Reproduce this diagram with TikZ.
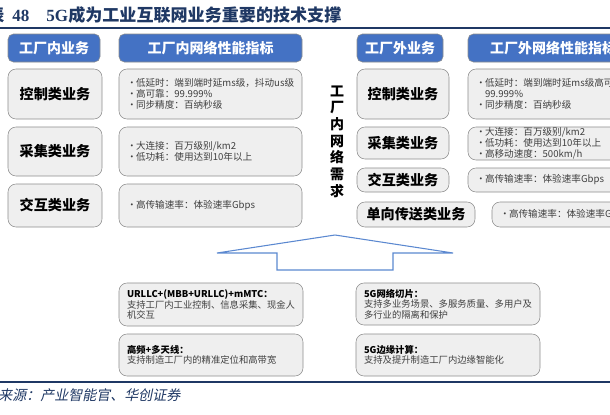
\documentclass[tikz,border=0pt]{standalone}
\usepackage{fontspec}
\setmainfont{Noto Sans CJK SC}
\newfontfamily\numfont{Liberation Serif}
\newfontfamily\srcfont[FakeSlant=0.2]{Noto Sans CJK SC}
\definecolor{hdrblue}{HTML}{4472C4}
\definecolor{boxgray}{HTML}{EFEFEF}
\definecolor{edgegray}{HTML}{8C8C8C}
\definecolor{txtgray}{HTML}{404040}
\definecolor{navy}{HTML}{1F3864}
\definecolor{arrowblue}{HTML}{5B88D0}
\newcommand{\bul}{\makebox[6.75pt][l]{•}}
\newcommand{\hang}{\hspace*{6.75pt}}

\tikzset{
  hdr/.style={fill=hdrblue, draw=edgegray, rounded corners=4pt, text=white,
    font=\fontsize{10.5}{12}\selectfont\bfseries, inner sep=0pt, minimum height=21pt},
  svc/.style={fill=boxgray, draw=edgegray, rounded corners=6pt,
    font=\fontsize{10.6}{13}\selectfont\bfseries, inner sep=0pt},
  spec/.style={fill=boxgray, draw=edgegray, rounded corners=6pt, text=txtgray,
    font=\fontsize{7.2}{8.25}\selectfont, align=left, inner xsep=6pt, inner ysep=0pt},
  tech/.style={spec, font=\fontsize{7}{7.9}\selectfont, text width=126pt}
}

\begin{document}
\begin{tikzpicture}[x=0.75pt, y=-0.75pt]
  \useasboundingbox (0,0) rectangle (610,414);
  \clip (0,0) rectangle (610,414);

  % title and rules
  \node[anchor=west, inner sep=0pt, text=navy, font=\fontsize{12.8}{14}\selectfont\bfseries]
    (title) at (-30,15) {图表\hspace{6pt}{\numfont 48}\hspace{12.75pt}{\numfont 5G}成为工业互联网业务重要的技术支撑};
  \draw[navy, line width=1.5pt] (0,28) -- (610,28);
  \draw[navy, line width=1.5pt] (0,382) -- (610,382);
  \node[anchor=west, inner sep=0pt, text=navy, font=\srcfont\fontsize{10.5}{12}\selectfont]
    (src) at (-30,395) {资料来源：产业智能官、华创证券};

  % headers
  \node[hdr, minimum width=69pt] (inhdr) at (54,48) {工厂内业务};
  \node[hdr, minimum width=137.25pt] (inspechdr) at (210.5,48) {工厂内网络性能指标};
  \node[hdr, minimum width=64.5pt] (outhdr) at (400,48) {工厂外业务};
  \node[hdr, minimum width=127.5pt] (outspechdr) at (553,48) {工厂外网络性能指标};

  % in-factory services
  \foreach \t/\y/\h [count=\i] in {控制类业务/94/37.5pt, 采集类业务/151.5/36.75pt, 交互类业务/205.5/32.25pt}{
    \node[svc, minimum width=70.5pt, minimum height=\h] (insvc\i) at (55,\y) {\t};
  }
  \node[spec, text width=125.25pt, minimum height=37.5pt] (inspec1) at (210.5,94)
    {\bul 低延时：端到端时延ms级，抖动us级\\ \bul 高可靠：99.999\%\\ \bul 同步精度：百纳秒级};
  \node[spec, text width=125.25pt, minimum height=36.75pt] (inspec2) at (210.5,151.5)
    {\bul 大连接：百万级别/km2\\ \bul 低功耗：使用达到10年以上};
  \node[spec, text width=125.25pt, minimum height=32.25pt] (inspec3) at (210.5,205.5)
    {\bul 高传输速率：体验速率Gbps};

  % vertical label
  \node[font=\fontsize{10.5}{12.5}\selectfont\bfseries, align=center, inner sep=0pt]
    (need) at (337,141.5) {工\\厂\\内\\网\\络\\需\\求};

  % out-of-factory services
  \node[svc, minimum width=69pt, minimum height=37.5pt] (outsvc1) at (403,94) {控制类业务};
  \node[svc, minimum width=69pt, minimum height=24pt] (outsvc2) at (403,143) {采集类业务};
  \node[svc, minimum width=69pt, minimum height=18pt] (outsvc3) at (403,180) {交互类业务};
  \node[svc, minimum width=88.5pt, minimum height=18.75pt] (outsvc4) at (416,214.5) {单向传送类业务};
  \node[spec, text width=124.5pt, minimum height=37.5pt] (outspec1) at (559,94)
    {\bul 低延时：端到端时延ms级高可靠：\\ \hang 99.999\%\\ \bul 同步精度：百纳秒级};
  \node[spec, text width=124.5pt, minimum height=24.75pt] (outspec2) at (559,143.5)
    {\bul 大连接：百万级别/km2\\ \bul 低功耗：使用达到10年以上\\ \bul 高移动速度：500km/h};
  \node[spec, text width=124.5pt, minimum height=18pt] (outspec3) at (559,180)
    {\bul 高传输速率：体验速率Gbps};
  \node[spec, text width=124.5pt, minimum height=18.75pt] (outspec4) at (583,214.5)
    {\bul 高传输速率：体验速率Gbps};

  % big arrow
  \draw[arrowblue, line width=0.8pt] (217,253) -- (335,235) -- (453,253) -- (393,253)
    -- (393,270) -- (277,270) -- (277,253) -- cycle;

  % 5G technologies
  \node[tech, minimum height=32.25pt] (tech1) at (211,304.5)
    {{\color{black}\bfseries URLLC+(MBB+URLLC)+mMTC：}\\支持工厂内工业控制、信息采集、现金人\\机交互};
  \node[tech, minimum height=31.5pt] (tech2) at (211,355)
    {{\color{black}\bfseries 高频+多天线：}\\支持制造工厂内的精准定位和高带宽};
  \node[tech, minimum height=31.5pt] (tech3) at (448,304)
    {{\color{black}\bfseries 5G网络切片：}\\支持多业务场景、多服务质量、多用户及\\多行业的隔离和保护};
  \node[tech, minimum height=31.5pt] (tech4) at (448,355)
    {{\color{black}\bfseries 5G边缘计算：}\\支持及提升制造工厂内边缘智能化};
\end{tikzpicture}
\end{document}
